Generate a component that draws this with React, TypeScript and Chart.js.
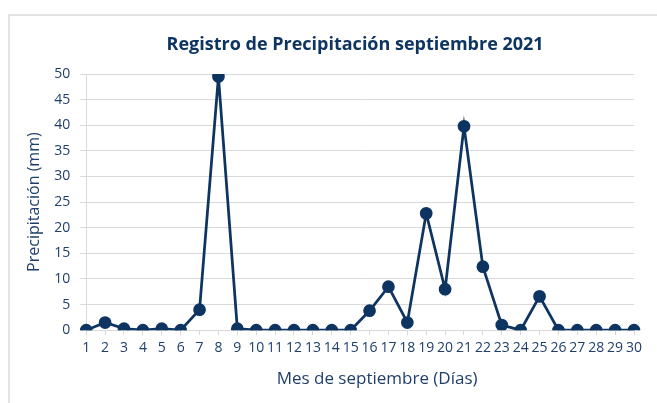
import React, { useEffect, useRef } from "react";
import { Chart, registerables } from "chart.js";

Chart.register(...registerables);

const days: string[] = Array.from({ length: 30 }, (_, i) => String(i + 1));
const precipitation: number[] = [
  0, 1.5, 0.3, 0, 0.3, 0, 4, 49.5, 0.3, 0,
  0, 0, 0, 0, 0, 3.8, 8.5, 1.5, 22.8, 8,
  39.8, 12.4, 1, 0, 6.6, 0, 0, 0, 0, 0,
];
const titleText = "Registro de Precipitación septiembre 2021";
const xTitle = "Mes de septiembre (Días)";
const yTitle = "Precipitación (mm)";

const NAVY = "#0e3461";
const TEXT = "#1f3f6b";
const GRID = "#d9d9d9";
const FONT = "'Open Sans', sans-serif";

const titlesPlugin = {
  id: "titlesPlugin",
  afterDraw(chart: any) {
    const { ctx, chartArea } = chart;
    const cx = (chartArea.left + chartArea.right) / 2;
    ctx.save();
    ctx.textAlign = "center";
    ctx.textBaseline = "middle";
    ctx.fillStyle = NAVY;
    ctx.font = `bold 18px ${FONT}`;
    ctx.fillText(titleText, cx - 5, chartArea.top - 29);
    ctx.fillStyle = TEXT;
    ctx.font = `17px ${FONT}`;
    ctx.fillText(xTitle, cx + 17, chartArea.bottom + 49);
    ctx.restore();
  },
};

export default function App() {
  const ref = useRef<HTMLCanvasElement | null>(null);
  useEffect(() => {
    if (!ref.current) return;
    const chart = new Chart(ref.current, {
      type: "line",
      data: {
        labels: days,
        datasets: [
          {
            data: precipitation,
            borderColor: NAVY,
            backgroundColor: NAVY,
            borderWidth: 2.75,
            pointRadius: 5,
            pointHoverRadius: 5,
            pointBackgroundColor: NAVY,
            pointBorderColor: NAVY,
            tension: 0,
          },
        ],
      },
      plugins: [titlesPlugin],
      options: {
        responsive: false,
        animation: false,
        layout: { padding: { left: 25, right: 23, top: 74, bottom: 43 } },
        plugins: {
          legend: { display: false },
          tooltip: { enabled: false },
          title: { display: false },
        },
        scales: {
          x: {
            type: "category",
            offset: false,
            grid: {
              drawOnChartArea: false,
              drawTicks: true,
              tickLength: 5,
              color: GRID,
            },
            border: { color: GRID, width: 1 },
            ticks: {
              color: TEXT,
              font: { family: FONT, size: 14 },
              padding: 4,
              maxRotation: 0,
              autoSkip: false,
            },
          },
          y: {
            min: 0,
            max: 50,
            ticks: {
              stepSize: 5,
              color: TEXT,
              font: { family: FONT, size: 14 },
              padding: 10,
            },
            grid: {
              color: GRID,
              drawTicks: true,
              tickLength: 6,
            },
            border: { color: GRID, width: 1 },
            title: {
              display: true,
              text: yTitle,
              color: TEXT,
              font: { family: FONT, size: 16 },
              padding: { top: 0, bottom: 0 },
            },
          },
        },
      },
    });
    return () => chart.destroy();
  }, []);

  return (
    <div
      style={{
        position: "fixed",
        left: 0,
        top: 0,
        width: 657,
        height: 403,
        overflow: "hidden",
        background: "#ffffff",
      }}
    >
      <div
        style={{
          position: "absolute",
          left: 8,
          top: 14,
          width: 700,
          height: 500,
          border: "2px solid #e3e3e3",
          boxSizing: "border-box",
        }}
      />
      <canvas
        ref={ref}
        width={657}
        height={403}
        style={{ position: "absolute", left: 0, top: 0, width: 657, height: 403 }}
      />
    </div>
  );
}
